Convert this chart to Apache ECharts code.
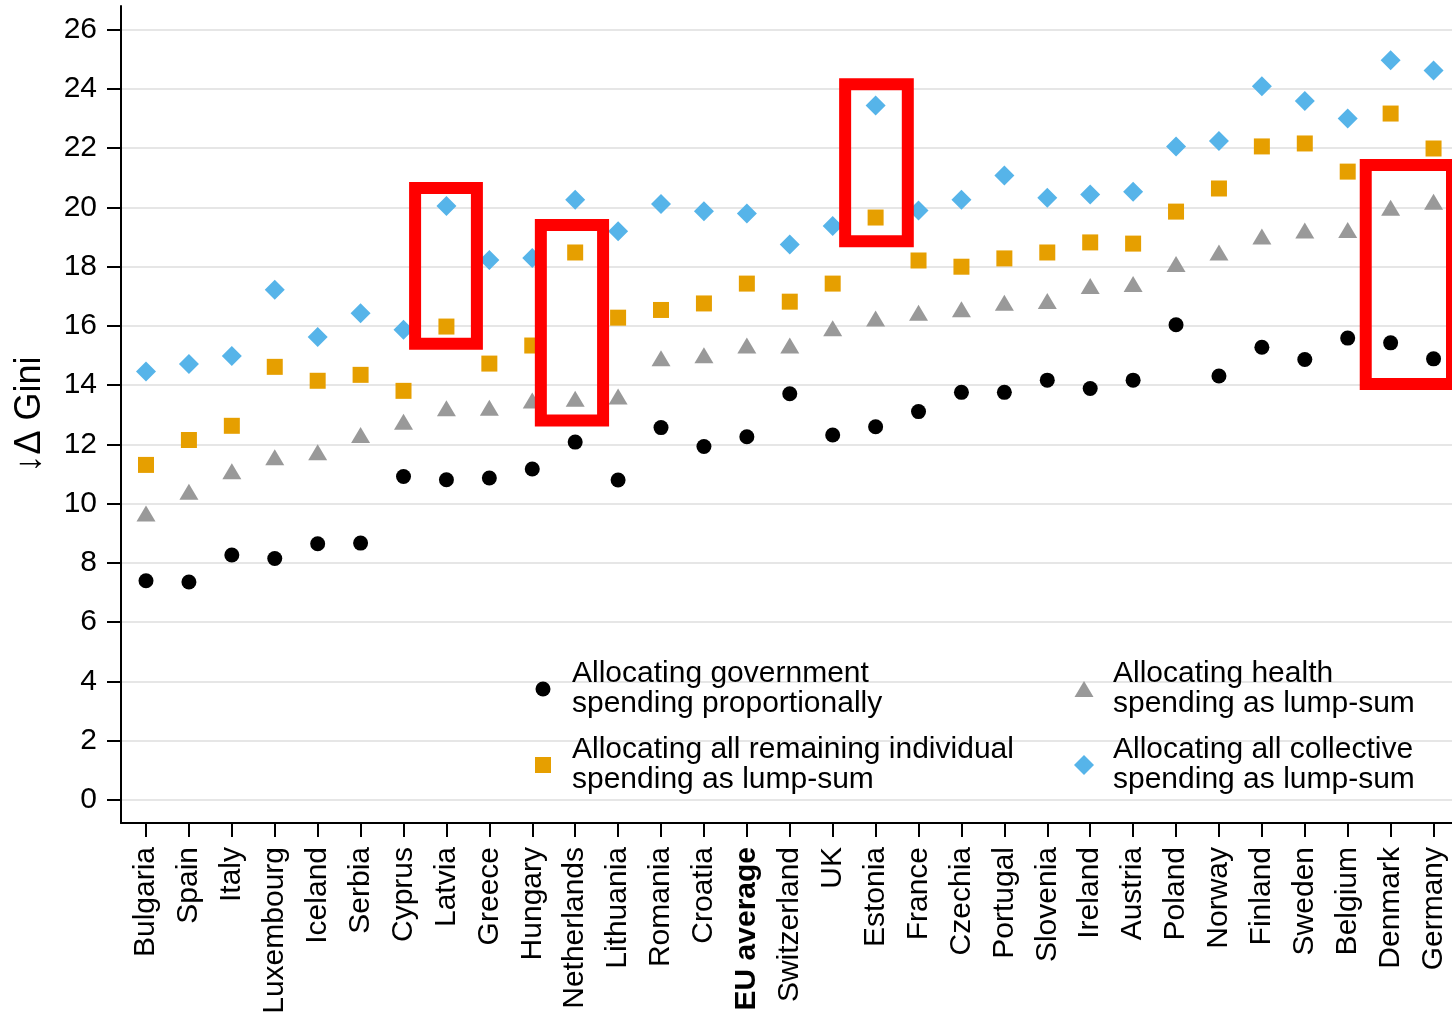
<!DOCTYPE html>
<html>
<head>
<meta charset="utf-8">
<title>Change in Gini by allocation method</title>
<script src="https://cdn.jsdelivr.net/npm/echarts@6.0.0/dist/echarts.min.js"></script>
<style>
  html, body { margin: 0; padding: 0; background: #ffffff; }
  #chart { width: 1452px; height: 1018px; }
</style>
</head>
<body>
<div id="chart"></div>
<script>
// Countries, ordered by the proportional-allocation result
const countries = ['Bulgaria', 'Spain', 'Italy', 'Luxembourg', 'Iceland', 'Serbia', 'Cyprus', 'Latvia',
  'Greece', 'Hungary', 'Netherlands', 'Lithuania', 'Romania', 'Croatia', 'EU average', 'Switzerland',
  'UK', 'Estonia', 'France', 'Czechia', 'Portugal', 'Slovenia', 'Ireland', 'Austria', 'Poland',
  'Norway', 'Finland', 'Sweden', 'Belgium', 'Denmark', 'Germany'];

// Reduction in the Gini coefficient (points) under each allocation scenario
const proportional = [7.40, 7.36, 8.27, 8.15, 8.65, 8.67, 10.92, 10.81, 10.87, 11.17, 12.08, 10.80,
  12.57, 11.93, 12.26, 13.71, 12.32, 12.60, 13.11, 13.76, 13.76, 14.17, 13.89, 14.17, 16.04, 14.31,
  15.28, 14.87, 15.59, 15.43, 14.89];
const healthLump = [9.67, 10.40, 11.10, 11.57, 11.74, 12.32, 12.77, 13.22, 13.24, 13.48, 13.54, 13.62,
  14.91, 15.01, 15.34, 15.34, 15.92, 16.25, 16.45, 16.56, 16.78, 16.84, 17.35, 17.42, 18.09, 18.48,
  19.02, 19.22, 19.24, 19.99, 20.19];
const individualLump = [11.31, 12.15, 12.63, 14.62, 14.15, 14.35, 13.81, 15.98, 14.73, 15.34, 18.48,
  16.28, 16.54, 16.76, 17.43, 16.82, 17.43, 19.66, 18.21, 18.00, 18.28, 18.48, 18.82, 18.78, 19.86,
  20.64, 22.06, 22.16, 21.21, 23.17, 21.99];
const collectiveLump = [14.46, 14.72, 14.99, 17.22, 15.63, 16.43, 15.87, 20.05, 18.23, 18.29, 20.26,
  19.20, 20.12, 19.87, 19.80, 18.75, 19.37, 23.44, 19.90, 20.26, 21.08, 20.33, 20.44, 20.53, 22.06,
  22.24, 24.09, 23.59, 23.00, 24.97, 24.62];

// Y-axis tick values
const yTicks = [0, 2, 4, 6, 8, 10, 12, 14, 16, 18, 20, 22, 24, 26];

// Highlight boxes: [xFrom, yFrom, xTo, yTo] in axis units
const highlightBoxes = [
  [6.27, 15.40, 7.71, 20.66],
  [9.20, 12.81, 10.65, 19.41],
  [16.29, 18.86, 17.75, 24.16],
  [28.42, 14.04, 31.60, 21.43]
];

const seriesNames = {
  prop: 'Allocating government\nspending proportionally',
  health: 'Allocating health\nspending as lump-sum',
  indiv: 'Allocating all remaining individual\nspending as lump-sum',
  coll: 'Allocating all collective\nspending as lump-sum'
};

const FONT = "'Liberation Sans', Arial, Helvetica, sans-serif";
const toPoints = arr => arr.map((v, i) => [i, v]);
const xIdx = countries.map((_, i) => i);

const chart = echarts.init(document.getElementById('chart'), null, { renderer: 'canvas' });

// One legend block per series: the key sits at its natural size, the text
// starts 29px to the right of the key's centre.
function legendFor(name, icon, iconCenterX, top, w, h) {
  return {
    data: [{ name: name, icon: icon }],
    left: iconCenterX - w / 2, top: top,
    orient: 'vertical',
    padding: 0,
    itemWidth: w, itemHeight: h,
    selectedMode: false,
    textStyle: {
      fontFamily: FONT, fontSize: 30, lineHeight: 30, color: '#000',
      padding: [0, 0, 0, 29 - w / 2 - 5]
    }
  };
}

const option = {
  animation: false,
  backgroundColor: '#ffffff',
  grid: { left: 121, right: 0, top: 6, bottom: 195, containLabel: false },
  legend: [
    legendFor(seriesNames.prop, 'circle', 543, 659, 15, 15),
    legendFor(seriesNames.indiv, 'rect', 543, 735, 16, 16),
    legendFor(seriesNames.health, 'triangle', 1084, 659, 19, 16),
    legendFor(seriesNames.coll, 'diamond', 1084, 735, 20, 20)
  ],
  xAxis: {
    type: 'value',
    min: -0.5825, max: 30.43,
    axisLine: { show: true, onZero: false, lineStyle: { color: '#000', width: 2 } },
    axisTick: { show: true, length: 14, customValues: xIdx, lineStyle: { color: '#000', width: 2 } },
    splitLine: { show: false },
    axisLabel: {
      customValues: xIdx,
      rotate: 90,
      margin: 24,
      fontFamily: FONT, fontSize: 30, color: '#000',
      formatter: v => {
        const name = countries[Math.round(v)];
        return name === 'EU average' ? '{b|' + name + '}' : name;
      },
      rich: { b: { fontFamily: FONT, fontSize: 30, fontWeight: 'bold', color: '#000' } }
    }
  },
  yAxis: {
    type: 'value',
    min: -0.777, max: 26.80,
    name: '\u2193\u0394 Gini',
    nameLocation: 'middle',
    nameGap: 73,
    nameTextStyle: { fontFamily: FONT, fontSize: 36, color: '#000' },
    axisLine: { show: true, onZero: false, lineStyle: { color: '#000', width: 2 } },
    axisTick: { show: true, length: 14, customValues: yTicks, lineStyle: { color: '#000', width: 2 } },
    axisLabel: { customValues: yTicks, margin: 24, fontFamily: FONT, fontSize: 30, color: '#000' },
    splitLine: { show: true, lineStyle: { color: '#e6e6e6', width: 2 } }
  },
  series: [
    {
      name: seriesNames.prop, type: 'scatter', symbol: 'circle', symbolSize: 15,
      itemStyle: { color: '#000000', opacity: 1 }, data: toPoints(proportional), z: 3
    },
    {
      name: seriesNames.health, type: 'scatter', symbol: 'triangle', symbolSize: [19, 16],
      itemStyle: { color: '#999999', opacity: 1 }, data: toPoints(healthLump), z: 3
    },
    {
      name: seriesNames.indiv, type: 'scatter', symbol: 'rect', symbolSize: 16,
      itemStyle: { color: '#E69F00', opacity: 1 }, data: toPoints(individualLump), z: 3
    },
    {
      name: seriesNames.coll, type: 'scatter', symbol: 'diamond', symbolSize: 20,
      itemStyle: { color: '#56B4E9', opacity: 1 }, data: toPoints(collectiveLump), z: 3
    },
    {
      // Red outline boxes drawn above the markers
      name: 'highlights', type: 'scatter', data: [], z: 10, silent: true,
      markArea: {
        silent: true,
        z: 10,
        label: { show: false },
        itemStyle: { color: 'rgba(0,0,0,0)', borderColor: '#ff0000', borderWidth: 12 },
        emphasis: { disabled: true },
        data: highlightBoxes.map(b => [{ coord: [b[0], b[3]] }, { coord: [b[2], b[1]] }])
      }
    }
  ]
};

chart.setOption(option);
</script>
</body>
</html>
